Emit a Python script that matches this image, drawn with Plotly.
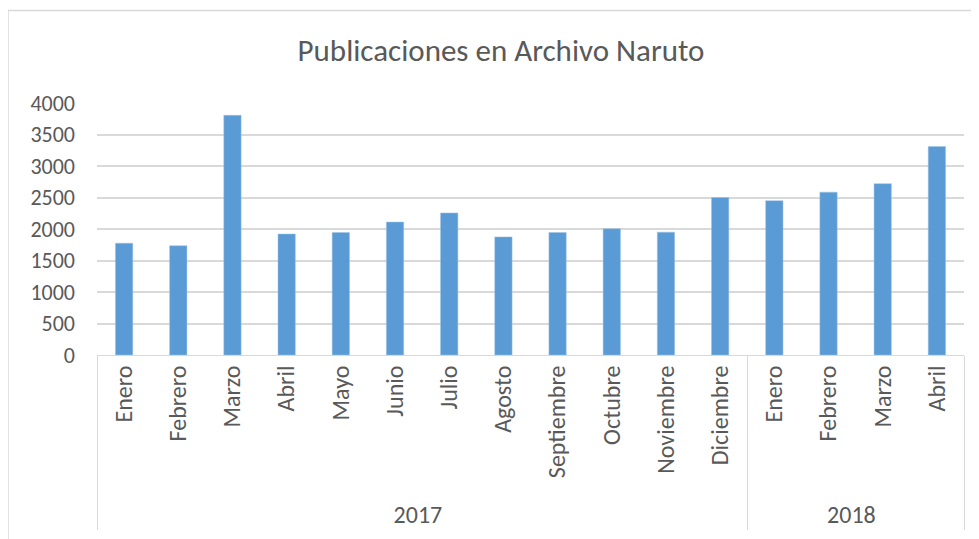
import plotly.graph_objects as go

years = ["2017"] * 12 + ["2018"] * 4
months = ["Enero", "Febrero", "Marzo", "Abril", "Mayo", "Junio", "Julio",
          "Agosto", "Septiembre", "Octubre", "Noviembre", "Diciembre",
          "Enero", "Febrero", "Marzo", "Abril"]
publicaciones = [1775, 1735, 3805, 1920, 1945, 2110, 2255, 1875, 1945,
                 2005, 1950, 2500, 2450, 2585, 2720, 3310]
y_ticks = [0, 500, 1000, 1500, 2000, 2500, 3000, 3500, 4000]

font = "Calibri, Carlito, Lato, sans-serif"
grey = "#595959"

# page has an 8px body margin, so figure coords = screen coords - 8
fig = go.Figure()
fig.add_trace(go.Bar(x=[years, months], y=publicaciones,
                     marker=dict(color="#5B9BD5",
                                 line=dict(color="#9DC3E6", width=0.5))))

fig.update_layout(
    width=979, height=539,
    margin=dict(l=89, r=23, t=95, b=192),
    paper_bgcolor="white", plot_bgcolor="white",
    font=dict(family=font, size=20, color=grey),
    title=dict(text="Publicaciones en Archivo Naruto",
               x=(501 - 97) / 867, xref="paper", xanchor="center",
               y=1 - 42 / 539, yanchor="middle",
               font=dict(size=31, color=grey)),
    bargap=0.68,
    showlegend=False,
)
fig.update_xaxes(type="multicategory", tickangle=-90,
                 showline=True, linecolor="#D9D9D9", linewidth=1,
                 showdividers=True, dividercolor="#D9D9D9", dividerwidth=1,
                 ticks="", showgrid=False,
                 tickfont=dict(size=24, color=grey))
fig.update_yaxes(range=[0, 4000], tickvals=y_ticks,
                 showgrid=True, gridcolor="#D9D9D9", gridwidth=1.5,
                 zeroline=False, ticks="", ticklabelstandoff=21,
                 tickfont=dict(size=22, color=grey))

# outer chart border
fig.add_shape(type="rect", xref="paper", yref="paper",
              x0=(8 - 97) / 867, x1=1.05, y0=-0.9, y1=(355.3 - 10) / 252.6,
              line=dict(color="#D9D9D9", width=1.5), layer="below")

fig.write_html("out.html")
